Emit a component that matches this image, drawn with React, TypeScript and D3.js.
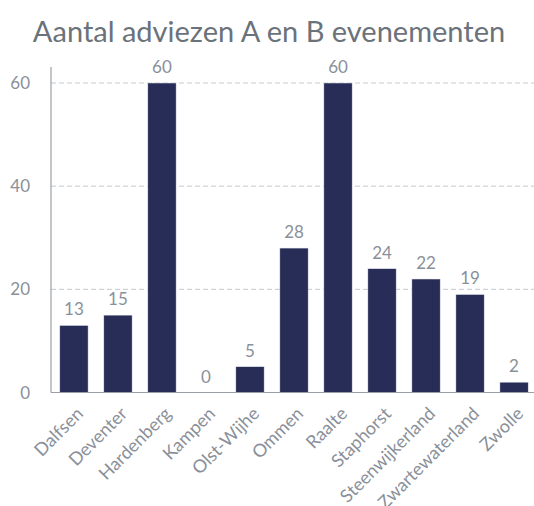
import React from "react";
import * as d3 from "d3";

const categories = ["Dalfsen", "Deventer", "Hardenberg", "Kampen", "Olst-Wijhe", "Ommen", "Raalte", "Staphorst", "Steenwijkerland", "Zwartewaterland", "Zwolle"];
const values = [13, 15, 60, 0, 5, 28, 60, 24, 22, 19, 2];
const yTicks = [0, 20, 40, 60];
const title = "Aantal adviezen A en B evenementen";

const W = 534;
const H = 506;
const left = 51;
const right = 537;
const top = 67;
const bottom = 392.5;
const font = "Lato, 'Open Sans', sans-serif";
const textGray = "#8a9099";
const barColor = "#272d57";

export default function App() {
  const x = d3.scaleBand<string>().domain(categories).range([left, right]).paddingInner(0.357).paddingOuter(0.2);
  const y = d3.scaleLinear().domain([0, 60]).range([bottom, 83]);

  return (
    <svg width={W} height={H} style={{ position: "absolute", left: 0, top: 0, fontFamily: font }}>
      <rect width={W} height={H} fill="#fff" />
      <text x={269} y={42} textAnchor="middle" fontSize={29} fill="#6b727a" fontFamily={font}>{title}</text>
      {yTicks.filter(t => t > 0).map(t => (
        <line key={"g" + t} x1={left} x2={W} y1={y(t)} y2={y(t)} stroke="#c4c8cc" strokeWidth={1} strokeDasharray="5,3" />
      ))}
      {yTicks.map(t => (
        <text key={"yt" + t} x={30} y={y(t)} dy="0.36em" textAnchor="end" fontSize={17} fill={textGray}>{t}</text>
      ))}
      {categories.map((c, i) => (
        <rect key={"b" + c} x={x(c)} y={y(values[i])} width={x.bandwidth()} height={bottom - y(values[i])} fill={barColor} stroke="#e8e9ee" strokeWidth={0.5} />
      ))}
      {categories.map((c, i) => (
        <text key={"l" + c} x={(x(c) as number) + x.bandwidth() / 2} y={y(values[i]) - 10} textAnchor="middle" fontSize={17} fill={textGray}>{values[i]}</text>
      ))}
      <line x1={left} x2={left} y1={top} y2={bottom} stroke="#9aa0a6" strokeWidth={1.2} />
      <line x1={left} x2={W} y1={bottom} y2={bottom} stroke="#9aa0a6" strokeWidth={1.2} />
      {categories.map(c => {
        const cx = (x(c) as number) + x.bandwidth() / 2 + 4;
        const cy = bottom + 16;
        return (
          <text key={"x" + c} x={cx} y={cy} textAnchor="end" fontSize={18} fill={textGray} transform={`rotate(-45 ${cx} ${cy})`} dy="0.5em">{c}</text>
        );
      })}
    </svg>
  );
}
